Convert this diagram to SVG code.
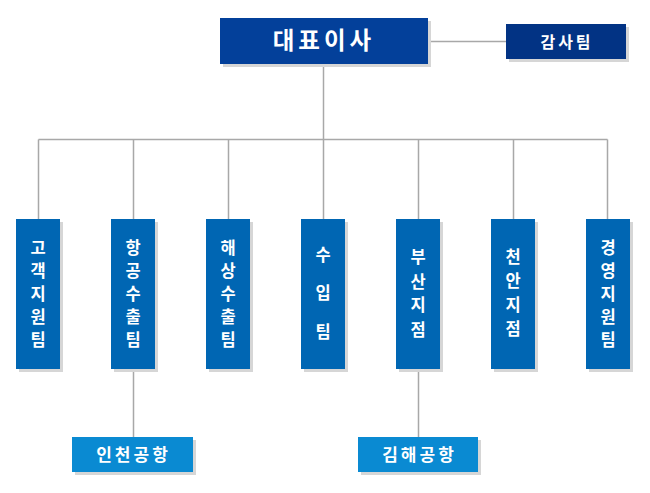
<svg xmlns="http://www.w3.org/2000/svg" width="650" height="493" viewBox="0 0 650 493">
<style>
.sh{fill:#d6d6d6}
.ln{stroke:#a8a8a8;stroke-width:1.5;fill:none}
.t{font-family:"Noto Sans CJK KR","Noto Sans",sans-serif;font-weight:bold;fill:#ffffff;text-anchor:middle}
.col{fill:#0066b3}
.v{font-size:16.5px}
.sub{fill:#0a8ad2}
</style>
<rect width="650" height="493" fill="#ffffff"/>
<g id="connectors">
<path class="ln" d="M428 41.5H506"/>
<path class="ln" d="M323.5 64V139.5"/>
<path class="ln" d="M38.5 139.5H607.5"/>
<path class="ln" d="M38.5 139.5V219M133.5 139.5V219M228.5 139.5V219M323.5 139.5V219M418.5 139.5V219M513.5 139.5V219M607.5 139.5V219"/>
<path class="ln" d="M133.5 369V437M418.5 369V437"/>
</g>
<g id="ceo">
<rect class="sh" x="223" y="21" width="208" height="46"/>
<rect x="220" y="18" width="208" height="46" fill="#03409a"/>
<text class="t" x="324" y="49" font-size="23.5" letter-spacing="4">대표이사</text>
</g>
<g id="audit">
<rect class="sh" x="509" y="27" width="120" height="35"/>
<rect x="506" y="24" width="120" height="35" fill="#023384"/>
<text class="t" x="567" y="47.5" font-size="16" letter-spacing="3">감사팀</text>
</g>
<g id="n1">
<rect class="sh" x="19" y="222" width="44" height="150"/>
<rect class="col" x="16" y="219" width="44" height="150"/>
<text class="t v"><tspan x="38" y="254">고</tspan><tspan x="38" y="277">객</tspan><tspan x="38" y="300">지</tspan><tspan x="38" y="323">원</tspan><tspan x="38" y="346">팀</tspan></text>
</g>
<g id="n2">
<rect class="sh" x="114" y="222" width="44" height="150"/>
<rect class="col" x="111" y="219" width="44" height="150"/>
<text class="t v"><tspan x="133" y="254">항</tspan><tspan x="133" y="277">공</tspan><tspan x="133" y="300">수</tspan><tspan x="133" y="323">출</tspan><tspan x="133" y="346">팀</tspan></text>
</g>
<g id="n3">
<rect class="sh" x="209" y="222" width="44" height="150"/>
<rect class="col" x="206" y="219" width="44" height="150"/>
<text class="t v"><tspan x="228" y="254">해</tspan><tspan x="228" y="277">상</tspan><tspan x="228" y="300">수</tspan><tspan x="228" y="323">출</tspan><tspan x="228" y="346">팀</tspan></text>
</g>
<g id="n4">
<rect class="sh" x="304" y="222" width="44" height="150"/>
<rect class="col" x="301" y="219" width="44" height="150"/>
<text class="t v"><tspan x="323" y="261">수</tspan><tspan x="323" y="299">입</tspan><tspan x="323" y="338">팀</tspan></text>
</g>
<g id="n5">
<rect class="sh" x="399" y="222" width="44" height="150"/>
<rect class="col" x="396" y="219" width="44" height="150"/>
<text class="t v"><tspan x="418" y="263">부</tspan><tspan x="418" y="288">산</tspan><tspan x="418" y="311">지</tspan><tspan x="418" y="336">점</tspan></text>
</g>
<g id="n6">
<rect class="sh" x="494" y="222" width="44" height="150"/>
<rect class="col" x="491" y="219" width="44" height="150"/>
<text class="t v"><tspan x="513" y="263">천</tspan><tspan x="513" y="287">안</tspan><tspan x="513" y="311">지</tspan><tspan x="513" y="335">점</tspan></text>
</g>
<g id="n7">
<rect class="sh" x="589" y="222" width="44" height="150"/>
<rect class="col" x="586" y="219" width="44" height="150"/>
<text class="t v"><tspan x="608" y="254">경</tspan><tspan x="608" y="277">영</tspan><tspan x="608" y="300">지</tspan><tspan x="608" y="323">원</tspan><tspan x="608" y="346">팀</tspan></text>
</g>
<g id="incheon">
<rect class="sh" x="75" y="440" width="121" height="35"/>
<rect class="sub" x="72" y="437" width="121" height="35"/>
<text class="t" x="133.5" y="460.5" font-size="17" letter-spacing="3">인천공항</text>
</g>
<g id="gimhae">
<rect class="sh" x="361" y="440" width="120" height="35"/>
<rect class="sub" x="358" y="437" width="120" height="35"/>
<text class="t" x="419.5" y="460.5" font-size="17" letter-spacing="3">김해공항</text>
</g>
</svg>
